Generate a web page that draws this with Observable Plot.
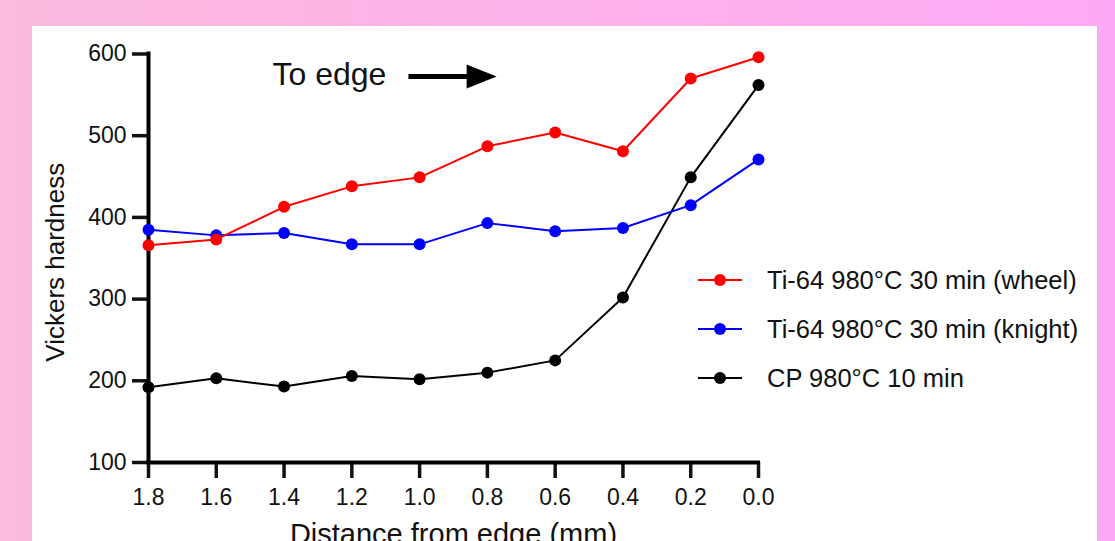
<!DOCTYPE html>
<html><head><meta charset="utf-8">
<script src="https://cdn.jsdelivr.net/npm/d3@7"></script>
<script src="https://cdn.jsdelivr.net/npm/@observablehq/plot@0.6"></script>
<style>
html,body{margin:0;padding:0;width:1115px;height:541px;overflow:hidden;}
body{background:linear-gradient(to right,#fbbade,#fdaaf6);font-family:"Liberation Sans",Arial,sans-serif;position:relative;}
#panel{position:absolute;left:32px;top:26px;width:1065px;height:540px;background:#fff;overflow:hidden;}
#panel svg{display:block;}
.lg{position:absolute;left:666px;height:30px;display:flex;align-items:center;font-size:25.5px;color:#111;white-space:nowrap;}
.lg svg{width:44px;height:14px;margin-right:25px;}
</style></head>
<body>
<div id="panel"></div>
<script>
// ---- data ----
const distance = [1.8, 1.6, 1.4, 1.2, 1.0, 0.8, 0.6, 0.4, 0.2, 0.0];
const wheel  = [366, 373, 413, 438, 449, 487, 504, 481, 570, 596];
const knight = [385, 378, 381, 367, 367, 393, 383, 387, 415, 471];
const cp     = [192, 203, 193, 206, 202, 210, 225, 302, 449, 562];
const seriesNames = ["Ti-64 980°C 30 min (wheel)", "Ti-64 980°C 30 min (knight)", "CP 980°C 10 min"];
const seriesColors = ["#ff0000", "#0000ff", "#000000"];
const xTicks = [1.8, 1.6, 1.4, 1.2, 1.0, 0.8, 0.6, 0.4, 0.2, 0.0];
const xTickLabels = ["1.8", "1.6", "1.4", "1.2", "1.0", "0.8", "0.6", "0.4", "0.2", "0.0"];
const yTicks = [100, 200, 300, 400, 500, 600];
const yTickLabels = ["100", "200", "300", "400", "500", "600"];
const annotationText = [{x: 1.434, y: 574.5, label: "To edge"}];
const annotationArrow = [{x1: 1.033, x2: 0.817, y: 572.5}];

const seriesValues = [wheel, knight, cp];
const drawOrder = [2, 1, 0];
const rows = [];
for (const s of drawOrder) distance.forEach((d, i) => rows.push({x: d, y: seriesValues[s][i], series: seriesNames[s]}));
const xLab = xTicks.map((v, i) => ({v, t: xTickLabels[i]}));
const yLab = yTicks.map((v, i) => ({v, t: yTickLabels[i]}));

const arrowHead = {draw(ctx) { ctx.moveTo(15, 0); ctx.lineTo(-15, -12); ctx.lineTo(-15, 12); ctx.closePath(); }};

const font = '"Liberation Sans", Arial, sans-serif';
const chart = Plot.plot({
  width: 1065, height: 540,
  marginLeft: 116, marginRight: 339, marginTop: 27.5, marginBottom: 104,
  style: {fontFamily: font, background: "transparent", color: "#111"},
  x: {domain: [1.8, 0], axis: null},
  y: {domain: [100, 600], axis: null},
  color: {domain: seriesNames, range: seriesColors},
  marks: [
    Plot.axisX({ticks: xTicks, tickSize: 16, tickFormat: () => "", strokeWidth: 3.5, label: null, anchor: "bottom"}),
    Plot.axisY({ticks: yTicks, tickSize: 16, tickFormat: () => "", strokeWidth: 3.5, label: null, anchor: "left"}),
    Plot.text(xLab, {x: "v", text: "t", frameAnchor: "bottom", dy: 26, lineAnchor: "top", fontSize: 23, fill: "#111"}),
    Plot.text(yLab, {y: "v", text: "t", frameAnchor: "left", dx: -22, textAnchor: "end", lineAnchor: "middle", fontSize: 23, fill: "#111"}),
    Plot.ruleY([100], {stroke: "#000", strokeWidth: 4, strokeLinecap: "square"}),
    Plot.ruleX([1.8], {y1: 100, y2: 600, stroke: "#000", strokeWidth: 4, strokeLinecap: "square"}),
    Plot.line(rows, {x: "x", y: "y", z: "series", stroke: "series", strokeWidth: 2}),
    Plot.dot(rows, {x: "x", y: "y", fill: "series", r: 6, stroke: null}),
    Plot.text(annotationText, {x: "x", y: "y", text: "label", textAnchor: "start", lineAnchor: "middle", fontSize: 32, fill: "#111"}),
    Plot.link(annotationArrow, {x1: "x1", x2: "x2", y1: "y", y2: "y", stroke: "#000", strokeWidth: 5}),
    Plot.dot(annotationArrow, {x: "x2", y: "y", symbol: arrowHead, fill: "#000", r: 10}),
    Plot.text(["Vickers hardness"], {frameAnchor: "left", textAnchor: "middle", rotate: -90, dx: -93, dy: 4, fontSize: 26, fill: "#111", lineAnchor: "middle"}),
    Plot.text(["Distance from edge (mm)"], {frameAnchor: "bottom", textAnchor: "middle", dy: 61, lineAnchor: "top", fontSize: 29, fill: "#111"})
  ]
});
const panel = document.getElementById("panel");
panel.appendChild(chart);

// legend
const legendCenters = [254, 303, 352];
seriesNames.forEach((name, i) => {
  const div = document.createElement("div");
  div.className = "lg";
  div.style.top = (legendCenters[i] - 15) + "px";
  div.innerHTML = `<svg viewBox="0 0 44 14"><line x1="0" y1="7" x2="44" y2="7" stroke="${seriesColors[i]}" stroke-width="2"/><circle cx="22" cy="7" r="6" fill="${seriesColors[i]}"/></svg><span>${name}</span>`;
  panel.appendChild(div);
});
</script>
</body></html>
